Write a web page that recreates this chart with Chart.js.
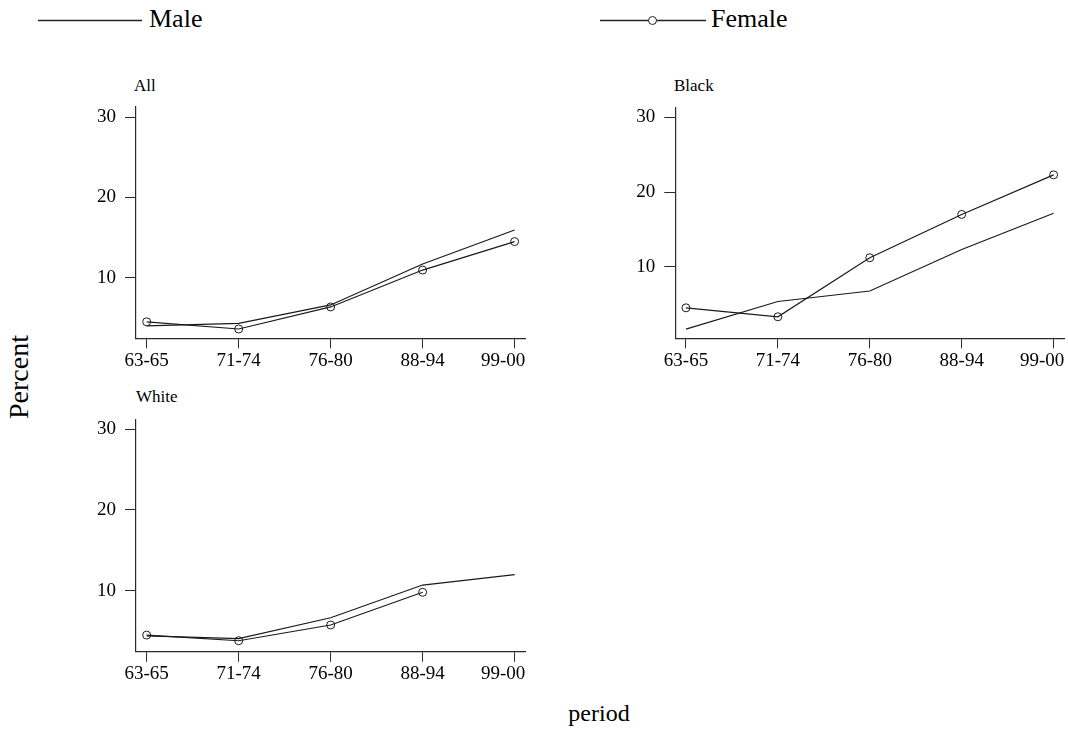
<!DOCTYPE html>
<html>
<head>
<meta charset="utf-8">
<script src="https://cdn.jsdelivr.net/npm/chart.js@4"></script>
<style>
  html, body { margin: 0; padding: 0; background: #fff; overflow: hidden; }
  body { width: 1068px; height: 731px; position: relative; font-family: "Liberation Serif", "Times New Roman", serif; color: #000; }
  canvas { position: absolute; }
  .txt { position: absolute; white-space: nowrap; }
  .legend { font-size: 26px; line-height: 26px; }
  .ptitle { font-size: 17px; line-height: 17px; }
  .atitle { font-size: 24px; line-height: 24px; }
</style>
</head>
<body>

<svg width="1068" height="40" style="position:absolute;left:0;top:0">
  <line x1="38" y1="20.5" x2="142" y2="20.5" stroke="#222" stroke-width="1.3"/>
  <line x1="600" y1="20.5" x2="706" y2="20.5" stroke="#222" stroke-width="1.3"/>
  <circle cx="652.5" cy="20.5" r="4" fill="#fff" stroke="#222" stroke-width="1"/>
</svg>
<div class="txt legend" style="left:149px;top:5.5px">Male</div>
<div class="txt legend" style="left:711px;top:5.5px">Female</div>

<div class="txt ptitle" style="left:134px;top:76.5px">All</div>
<div class="txt ptitle" style="left:674px;top:76.5px">Black</div>
<div class="txt ptitle" style="left:136px;top:388px">White</div>

<canvas id="chartAll" width="510" height="300" style="left:40px;top:96px"></canvas>
<canvas id="chartBlack" width="510" height="300" style="left:580px;top:96px"></canvas>
<canvas id="chartWhite" width="510" height="300" style="left:40px;top:410px"></canvas>

<div class="txt atitle" style="left:19px;top:377px;font-size:28px;line-height:28px;transform:translate(-50%,-50%) rotate(-90deg)">Percent</div>
<div class="txt atitle" style="left:599px;top:701px;transform:translateX(-50%)">period</div>

<script>
const periods = ["63-65", "71-74", "76-80", "88-94", "99-00"];
const yTickValues = [10, 20, 30];

// All
const allMale = [4.0, 4.3, 6.6, 11.7, 15.95];
const allFemale = [4.5, 3.6, 6.35, 10.95, 14.5];

// Black
const blackMale = [1.65, 5.35, 6.75, 12.3, 17.15];
const blackFemale = [4.5, 3.3, 11.2, 17.0, 22.3];

// White
const whiteMale = [4.4, 4.05, 6.65, 10.7, 12.0];
const whiteFemale = [4.5, 3.8, 5.75, 9.8, null];

const ink = "#1a1a1a";
const axisInk = "#2a2a2a";
const tickFont = { family: "Liberation Serif", size: 19, lineHeight: 1 };

// stata puts the last x label flush with the end of the axis
const lastLabelRight = {
  id: "lastLabelRight",
  beforeDraw(chart) {
    const sc = chart.scales.x;
    const items = sc.getLabelItems();
    const last = items[items.length - 1];
    if (last && last.options && last.options.translation) {
      last.options.textAlign = "right";
      last.options.translation[0] = sc.right;
    }
  }
};

function toPoints(values) {
  return values.map((v, i) => ({ x: i, y: v }));
}

function noPad(axis) {
  axis.paddingTop = 0;
  axis.paddingBottom = 0;
  axis.paddingLeft = 0;
  axis.paddingRight = 0;
}

function panel(id, male, female, yMin, yMax, box) {
  const ctx = document.getElementById(id);
  return new Chart(ctx, {
    type: "line",
    data: {
      datasets: [
        {
          label: "Male",
          data: toPoints(male),
          borderColor: ink,
          borderWidth: 1.2,
          pointRadius: 0,
          fill: false,
          tension: 0
        },
        {
          label: "Female",
          data: toPoints(female),
          borderColor: ink,
          borderWidth: 1.2,
          pointStyle: "circle",
          pointRadius: 4,
          pointBorderWidth: 1,
          pointBorderColor: ink,
          pointBackgroundColor: "rgba(0,0,0,0)",
          fill: false,
          tension: 0
        }
      ]
    },
    options: {
      responsive: false,
      animation: false,
      layout: {
        padding: { left: 0, right: box.padRight, top: box.padTop, bottom: 0 }
      },
      plugins: {
        legend: { display: false },
        tooltip: { enabled: false },
        title: { display: false }
      },
      scales: {
        x: {
          type: "linear",
          min: -0.116,
          max: 4.116,
          afterBuildTicks: (axis) => {
            axis.ticks = periods.map((p, i) => ({ value: i }));
          },
          afterFit: (axis) => {
            axis.height = box.xHeight;
            noPad(axis);
          },
          ticks: {
            callback: (v) => periods[v],
            color: "#000",
            font: tickFont,
            padding: 3,
            maxRotation: 0,
            autoSkip: false
          },
          grid: {
            drawOnChartArea: false,
            drawTicks: true,
            tickLength: 10,
            color: axisInk,
            lineWidth: 1
          },
          border: { display: true, color: axisInk, width: 1.2 }
        },
        y: {
          type: "linear",
          min: yMin,
          max: yMax,
          afterBuildTicks: (axis) => {
            axis.ticks = yTickValues.map((v) => ({ value: v }));
          },
          afterFit: (axis) => {
            axis.width = box.yWidth;
            noPad(axis);
          },
          ticks: {
            color: "#000",
            font: tickFont,
            padding: 9
          },
          grid: {
            drawOnChartArea: false,
            drawTicks: true,
            tickLength: 11,
            color: axisInk,
            lineWidth: 1
          },
          border: { display: true, color: axisInk, width: 1.2 }
        }
      }
    },
    plugins: [lastLabelRight]
  });
}

panel("chartAll", allMale, allFemale, 2.44, 31.32,
  { padRight: 24.7, padTop: 10.7, xHeight: 57.7, yWidth: 96 });
panel("chartBlack", blackMale, blackFemale, 0.42, 31.34,
  { padRight: 25.7, padTop: 11.3, xHeight: 57.7, yWidth: 95.3 });
panel("chartWhite", whiteMale, whiteFemale, 2.44, 31.15,
  { padRight: 24.7, padTop: 10, xHeight: 58.3, yWidth: 96 });
</script>
</body>
</html>
